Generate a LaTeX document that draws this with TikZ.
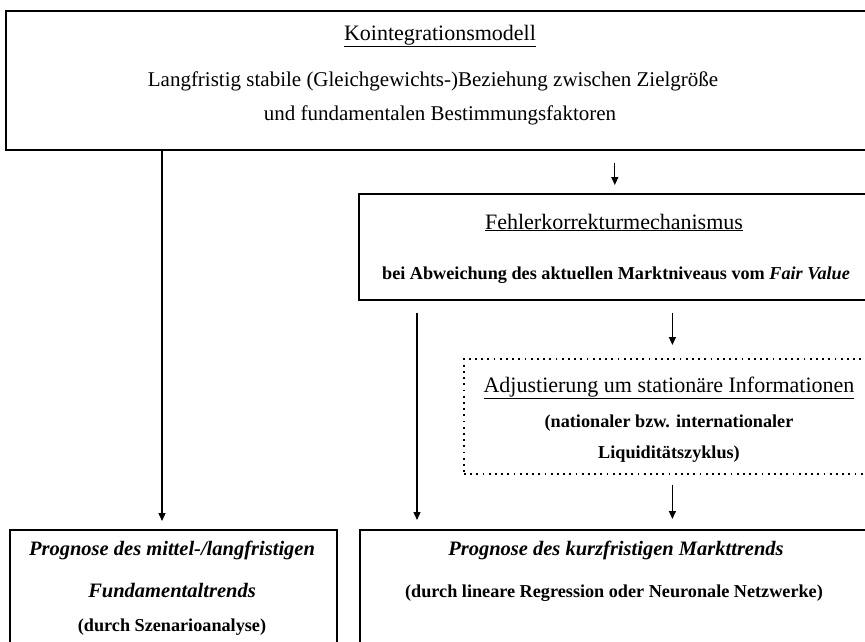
\documentclass[tikz,border=0pt]{standalone}
\usepackage{fontspec}
\setmainfont{Liberation Serif}
\usetikzlibrary{arrows.meta,calc}

\begin{document}
\begin{tikzpicture}[x=1pt, y=-1pt,
	box/.style = {draw, line width=1.6pt, anchor=north west, inner sep=0pt},
	dotbox/.style = {draw, line width=1.8pt, dash pattern=on 1.8pt off 4.4pt, anchor=north west, inner sep=0pt},
	titel/.style = {inner sep=0pt, anchor=base, font=\fontsize{22}{26}\selectfont},
	txt/.style = {inner sep=0pt, anchor=base, font=\fontsize{21}{25}\selectfont},
	klein/.style = {inner sep=0pt, anchor=base, font=\fontsize{18.2}{22}\selectfont\bfseries},
	prog/.style = {inner sep=0pt, anchor=base, font=\fontsize{20.5}{24}\selectfont\bfseries\itshape},
	pfeil/.style = {-{Triangle[length=8pt,width=7pt]}, line width=1.3pt}]
	
	\useasboundingbox (0,0) rectangle (865,641);
	
	% Kaesten
	\node[box, minimum width=865pt, minimum height=139pt] (kim) at (5,10) {};
	\node[box, minimum width=512pt, minimum height=106pt] (fkm) at (358,193) {};
	\node[dotbox, minimum width=417pt, minimum height=115pt] (adj) at (463,358) {};
	\node[box, minimum width=327pt, minimum height=140pt] (plang) at (9,529) {};
	\node[box, minimum width=516pt, minimum height=140pt] (pkurz) at (359,529) {};
	
	% Texte
	\node[titel] (kimT) at (440,40) {\underline{Kointegrationsmodell}};
	\node[txt] (kimA) at (433,86) {Langfristig stabile (Gleichgewichts-)Beziehung zwischen Zielgröße};
	\node[txt] (kimB) at (440,120) {und fundamentalen Bestimmungsfaktoren};
	
	\node[titel] (fkmT) at (614,229) {\underline{Fehlerkorrekturmechanismus}};
	\node[klein] (fkmA) at (616,279) {bei Abweichung des aktuellen Marktniveaus vom \textit{Fair Value}};
	
	\node[titel] (adjT) at (669,392) {\underline{Adjustierung um stationäre Informationen}};
	\node[klein] (adjA) at (669,427) {(nationaler bzw. internationaler};
	\node[klein] (adjB) at (669,458) {Liquiditätszyklus)};
	
	\node[prog] (plangT) at (172,555) {Prognose des mittel-/langfristigen};
	\node[prog] (plangA) at (172,597) {Fundamentaltrends};
	\node[klein] (plangB) at (172,631) {(durch Szenarioanalyse)};
	
	\node[prog] (pkurzT) at (616,555) {Prognose des kurzfristigen Markttrends};
	\node[klein] (pkurzA) at (614,597) {(durch lineare Regression oder Neuronale Netzwerke)};
	
	% Pfeile
	\coordinate (links) at (162,521);
	\draw[pfeil] (kim.south -| links) -- (links);
	\draw[pfeil] ($(kim.south -| fkm.north)+(0,12)$) -- ($(fkm.north)+(0,-8)$);
	\coordinate (mitte) at (417,520);
	\draw[pfeil] ($(fkm.south -| mitte)+(0,12)$) -- (mitte);
	\draw[pfeil] ($(fkm.south -| adj.north)+(0,12)$) -- ($(adj.north)+(0,-13)$);
	\draw[pfeil] ($(adj.south)+(0,10)$) -- ($(adj.south |- pkurz.north)+(0,-10)$);
	
\end{tikzpicture}
\end{document}
